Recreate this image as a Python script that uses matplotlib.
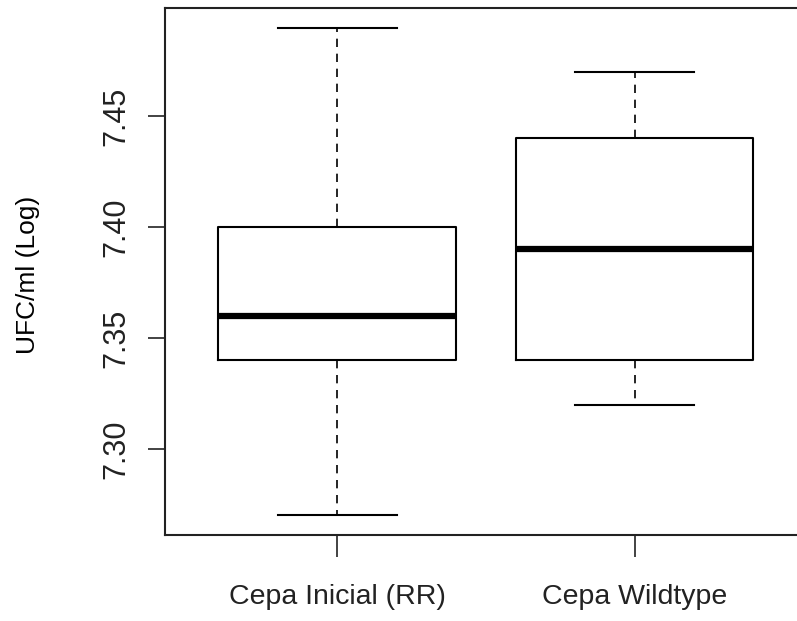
import matplotlib
matplotlib.use('Agg')
import matplotlib.pyplot as plt

groups = ['Cepa Inicial (RR)', 'Cepa Wildtype']
whislo = [7.27, 7.32]
q1 = [7.34, 7.34]
med = [7.36, 7.39]
q3 = [7.40, 7.44]
whishi = [7.49, 7.47]
yticks = [7.30, 7.35, 7.40, 7.45]

plt.rcParams['font.family'] = ['Liberation Sans', 'DejaVu Sans']

fig = plt.figure(figsize=(7.97, 6.21), dpi=100)
# the right edge of the plot frame falls outside the picture, as in the original
ax = fig.add_axes([165/797, 1-535/621, 642/797, 527/621])

stats = []
for i in range(len(groups)):
    stats.append({'whislo': whislo[i], 'q1': q1[i], 'med': med[i],
                  'q3': q3[i], 'whishi': whishi[i], 'fliers': []})

ax.bxp(stats, positions=[1, 2], widths=0.8, showfliers=False,
       boxprops=dict(color='black', linewidth=1.5),
       medianprops=dict(color='black', linewidth=4.5, solid_capstyle='butt'),
       whiskerprops=dict(color='black', linewidth=1.2, linestyle=(0, (5, 4))),
       capprops=dict(color='black', linewidth=1.5),
       capwidths=0.4)

ax.set_xlim(0.42, 2.58)
ax.set_ylim(7.2612, 7.4988)
ax.set_xticks([1, 2])
ax.set_xticklabels(groups, fontsize=20.5)
ax.set_yticks(yticks)
ax.set_yticklabels(['%.2f' % v for v in yticks], fontsize=22, rotation=90, va='center')
ax.tick_params(axis='y', length=12, width=1.2, pad=12, colors='#222222')
ax.tick_params(axis='x', length=16, width=1.2, pad=19, colors='#222222')
for s in ax.spines.values():
    s.set_linewidth(1.5)
    s.set_color('#222222')

fig.text(28/797, 1-275/621, 'UFC/ml (Log)', rotation=90, fontsize=19,
         ha='center', va='center')

fig.savefig('out.png', dpi=100)
